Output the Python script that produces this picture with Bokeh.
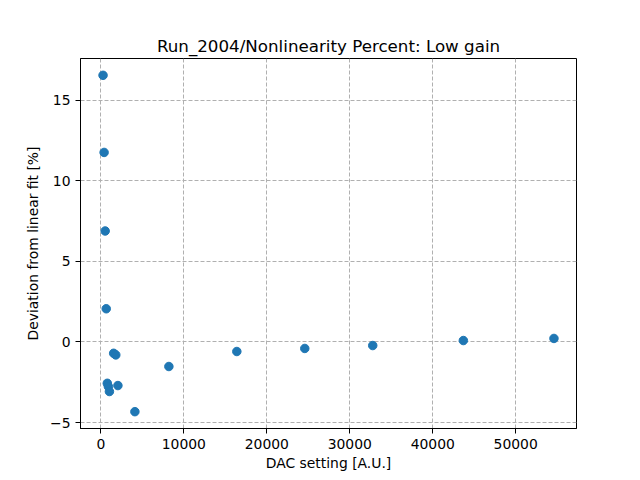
from bokeh.plotting import figure
from bokeh.models import FixedTicker, Range1d
from bokeh.embed import file_html
from bokeh.resources import INLINE

dac = [256, 384, 512, 640, 768, 896, 1024, 1536, 1792, 2048, 4096, 8192,
       16384, 24576, 32768, 43690, 54613]
deviation = [16.53, 11.75, 6.88, 2.06, -2.56, -2.76, -3.07, -0.70, -0.80, -2.70,
             -4.32, -1.52, -0.59, -0.40, -0.22, 0.09, 0.22]

x_ticks = [0, 10000, 20000, 30000, 40000, 50000]
x_tick_labels = ["0", "10000", "20000", "30000", "40000", "50000"]
y_ticks = [-5, 0, 5, 10, 15]
y_tick_labels = ["\u22125", "0", "5", "10", "15"]

title_text = "Run_2004/Nonlinearity Percent: Low gain"
x_label = "DAC setting [A.U.]"
y_label = "Deviation from linear fit [%]"

xmin, xmax = min(dac), max(dac)
ymin, ymax = min(deviation), max(deviation)
xpad = 0.05 * (xmax - xmin)
ypad = 0.05 * (ymax - ymin)

p = figure(width=640, height=480, output_backend="svg", toolbar_location=None,
           x_range=Range1d(xmin - xpad, xmax + xpad),
           y_range=Range1d(ymin - ypad, ymax + ypad),
           min_border_left=80, min_border_right=64,
           min_border_top=58, min_border_bottom=52,
           title=title_text)

p.scatter(dac, deviation, size=8.5, color="#1f77b4", line_color="#1f77b4")

font = "DejaVu Sans"
p.title.text_font = font
p.title.text_font_size = "16.7px"
p.title.text_font_style = "normal"
p.title.align = "center"
p.title.text_color = "black"
p.title.standoff = 6

p.outline_line_color = "black"
p.outline_line_alpha = 1.0
p.outline_line_width = 1

for ax, ticks, labels, lab in ((p.xaxis[0], x_ticks, x_tick_labels, x_label),
                               (p.yaxis[0], y_ticks, y_tick_labels, y_label)):
    ax.ticker = FixedTicker(ticks=ticks)
    ax.major_label_overrides = {t: l for t, l in zip(ticks, labels)}
    ax.axis_label = lab
    ax.axis_label_text_font = font
    ax.axis_label_text_font_size = "13.9px"
    ax.axis_label_text_font_style = "normal"
    ax.axis_label_text_color = "black"
    ax.major_label_text_font = font
    ax.major_label_text_font_size = "13.9px"
    ax.major_label_text_color = "black"
    ax.axis_line_color = "black"
    ax.major_tick_line_color = "black"
    ax.major_tick_out = 5
    ax.major_tick_in = 0
    ax.minor_tick_line_color = None
    ax.major_label_standoff = 5
    ax.axis_label_standoff = 6

p.xaxis[0].axis_label_standoff = 3
p.yaxis[0].major_label_orientation = "horizontal"

for g in (p.xgrid[0], p.ygrid[0]):
    g.grid_line_color = "#b0b0b0"
    g.grid_line_dash = "4 2"
    g.grid_line_width = 1

p.background_fill_color = "white"
p.border_fill_color = "white"

open("out.html", "w").write(file_html(p, INLINE))
